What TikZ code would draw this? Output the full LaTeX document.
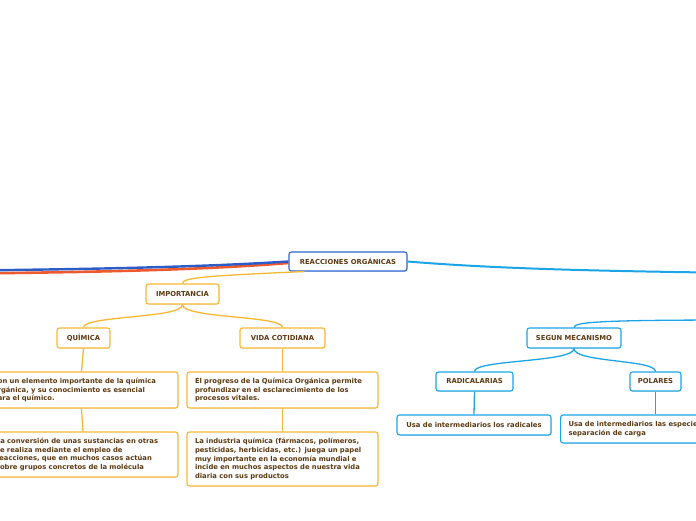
\documentclass[tikz,border=0pt]{standalone}
\usepackage{fontspec}
\setmainfont{DejaVu Sans}
\usepackage{tikz}
\usetikzlibrary{shadows}
\definecolor{txtbrown}{HTML}{5B3A12}
\definecolor{amber}{HTML}{F8B733}
\definecolor{rootblue}{HTML}{2A66CF}
\definecolor{skyblue}{HTML}{1CA5E6}
\definecolor{branchred}{HTML}{EE5A2F}
\definecolor{branchblue}{HTML}{2C5CC6}

\begin{document}
\begin{tikzpicture}[x=1pt, y=-1pt,
  every node/.style={font=\fontsize{6.8}{8.7}\selectfont\bfseries, text=txtbrown},
  topic/.style={draw, rounded corners=2.5pt, line width=1.1pt, fill=white,
    inner sep=0pt, minimum height=20pt,
    drop shadow={shadow xshift=0.4pt, shadow yshift=-0.8pt, opacity=0.18}},
  orangebox/.style={topic, draw=amber},
  bluebox/.style={topic, draw=skyblue},
  note/.style={align=left, inner xsep=8pt, inner ysep=4pt},
  orangeline/.style={amber, line width=1.3pt},
  blueline/.style={skyblue, line width=1.3pt}]
\useasboundingbox (0,0) rectangle (696,520);
\clip (0,0) rectangle (696,520);
% Off-picture ends
\coordinate (offA) at (-30,270.5);
\coordinate (offB) at (-30,273.5);
\coordinate (offC) at (740,273);
\coordinate (offD) at (740,320);
% Main topic
\node[topic, draw=rootblue, minimum width=118pt, minimum height=19pt] (root) at (348,261.5) {REACCIONES ORGÁNICAS};
% Importancia branch
\node[orangebox, minimum width=73pt] (imp) at (182.5,294) {IMPORTANCIA};
\node[orangebox, minimum width=53pt] (quim) at (83.5,338) {QUÍMICA};
\node[orangebox, minimum width=85pt] (vida) at (282.5,338) {VIDA COTIDIANA};
\node[orangebox, note, text width=177pt, minimum height=36pt] (quimA) at (81.5,390)
  {Son un elemento importante de la química\\ orgánica, y su conocimiento es esencial\\ para el químico.};
\node[orangebox, note, text width=174pt, minimum height=45pt] (quimB) at (83,454.5)
  {La conversión de unas sustancias en otras\\ se realiza mediante el empleo de\\ reacciones, que en muchos casos actúan\\ sobre grupos concretos de la molécula};
\node[orangebox, note, text width=175pt, minimum height=36pt] (vidaA) at (282.5,390)
  {El progreso de la Química Orgánica permite\\ profundizar en el esclarecimiento de los\\ procesos vitales.};
\node[orangebox, note, text width=175pt, minimum height=54pt] (vidaB) at (282.5,459)
  {La industria química (fármacos, polímeros,\\ pesticidas, herbicidas, etc.) juega un papel\\ muy importante en la economía mundial e\\ incide en muchos aspectos de nuestra vida\\ diaria con sus productos};
% Mecanismo branch
\node[bluebox, minimum width=94pt] (meca) at (574,338) {SEGUN MECANISMO};
\node[bluebox, minimum width=77pt, minimum height=19pt] (radi) at (474.5,381.5) {RADICALARIAS};
\node[bluebox, minimum width=51pt, minimum height=19pt] (pola) at (655.5,381.5) {POLARES};
\node[bluebox, minimum width=154pt] (radiA) at (474,425) {Usa de intermediarios los radicales};
\node[bluebox, note, anchor=west, text width=200pt, minimum height=28pt] (polaA) at (560,429)
  {Usa de intermediarios las especies\\ separación de carga};
% Branches leaving the main topic
\draw[branchred, line width=2.6pt] (root.west) ++(0,1.5) .. controls (200,270) and (100,272) .. (offB);
\draw[branchblue, line width=2.4pt] (root.west) .. controls (200,267) and (100,269) .. (offA);
\draw[skyblue, line width=2pt] (root.east) .. controls (500,269) and (600,271) .. (offC);
\draw[orangeline] (root.south west) ++(16,0) .. controls (200,276) and (183,278) .. (imp.north);
\draw[blueline] (offD) .. controls (600,320) and (574,322) .. (meca.north);
% Sub branches
\draw[orangeline] (imp.south) .. controls +(0,14) and +(0,-12) .. (quim.north);
\draw[orangeline] (imp.south) .. controls +(0,14) and +(0,-12) .. (vida.north);
\draw[orangeline] (quim.south) -- (quimA.north);
\draw[orangeline] (quimA.south) -- (quimB.north);
\draw[orangeline] (vida.south) -- (vidaA.north);
\draw[orangeline] (vidaA.south) -- (vidaB.north);
\draw[blueline] (meca.south) .. controls +(0,14) and +(0,-12) .. (radi.north);
\draw[blueline] (meca.south) .. controls +(0,14) and +(0,-12) .. (pola.north);
\draw[blueline] (radi.south) -- (radiA.north);
\draw[blueline] (pola.south) -- (pola.south |- polaA.north);
\end{tikzpicture}
\end{document}
